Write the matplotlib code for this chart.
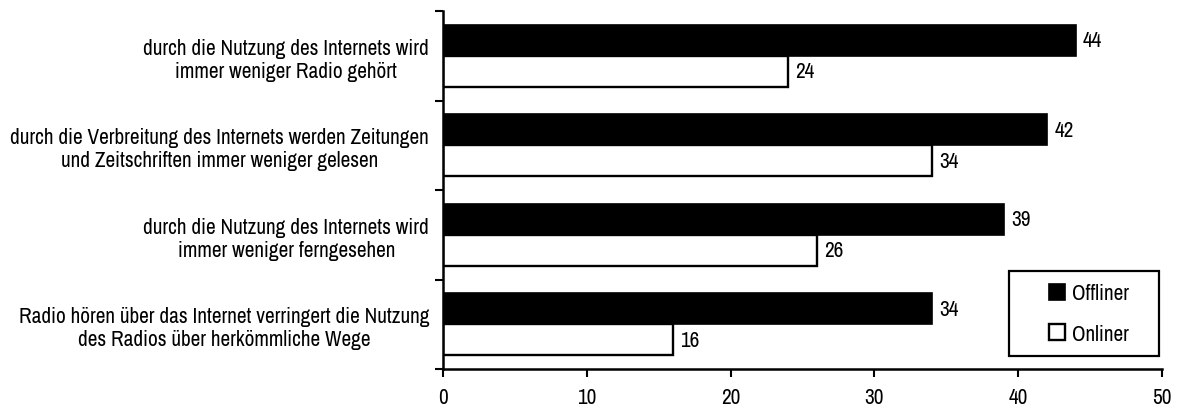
import matplotlib
matplotlib.use("Agg")
import matplotlib.pyplot as plt
from matplotlib import font_manager
from matplotlib.patches import Rectangle
import numpy as np

names = {f.name for f in font_manager.fontManager.ttflist}
prefs = ['Liberation Sans Narrow', 'Nimbus Sans Narrow', 'Archivo Narrow', 'Roboto Condensed',
         'PT Sans Narrow', 'Pragati Narrow', 'Liberation Sans']
chosen = next(p for p in prefs if p in names)
plt.rcParams['font.family'] = [chosen, 'DejaVu Sans']

categories = [
    "durch die Nutzung des Internets wird\nimmer weniger Radio gehört",
    "durch die Verbreitung des Internets werden Zeitungen\nund Zeitschriften immer weniger gelesen",
    "durch die Nutzung des Internets wird\nimmer weniger ferngesehen",
    "Radio hören über das Internet verringert die Nutzung\ndes Radios über herkömmliche Wege",
]
offliner = [44, 42, 39, 34]
onliner = [24, 34, 26, 16]
xticks = [0, 10, 20, 30, 40, 50]

FS = 15.3
W, H = 1182, 414

fig = plt.figure(figsize=(W/100, H/100), dpi=100)
ax = fig.add_axes([443/W, 1-370/H, (1162-443)/W, (370-12)/H])

n = len(categories)
y = np.arange(n)
h = 0.345
b1 = ax.barh(y - h/2, offliner, height=h, color='black', edgecolor='black', linewidth=1.2, label='Offliner')
b2 = ax.barh(y + h/2, onliner, height=h, color='white', edgecolor='black', linewidth=1.7, label='Onliner')
for rect, v in zip(b1, offliner):
    ax.text(v + 0.5, rect.get_y() + rect.get_height()/2, str(v), va='center', ha='left', fontsize=FS)
for rect, v in zip(b2, onliner):
    ax.text(v + 0.5, rect.get_y() + rect.get_height()/2, str(v), va='center', ha='left', fontsize=FS)

ax.set_ylim(n - 0.5, -0.5)
ax.set_xlim(0, 50)
ax.set_yticks(y)
ax.set_yticklabels(categories, fontsize=FS)
for t in ax.get_yticklabels():
    t.set_multialignment('center')
    t.set_linespacing(1.2)
ax.tick_params(axis='y', which='major', length=0, pad=10)
ax.set_yticks(np.arange(-0.5, n, 1.0), minor=True)
ax.tick_params(axis='y', which='minor', length=6, width=1.5, direction='out')
ax.set_xticks(xticks)
ax.set_xticklabels([str(v) for v in xticks], fontsize=FS)
ax.tick_params(axis='x', length=6, width=1.5, direction='out', pad=7)

for s in ['top', 'right']:
    ax.spines[s].set_visible(False)
for s in ['left', 'bottom']:
    ax.spines[s].set_linewidth(1.8)

# legend frame box
lx0, lx1, ly0, ly1 = 1009/W, 1159/W, 1-357/H, 1-272/H
fig.patches.append(Rectangle((lx0, ly0), lx1-lx0, ly1-ly0, transform=fig.transFigure,
                             facecolor='white', edgecolor='black', linewidth=1.6, zorder=5))
leg = fig.legend(handles=[b1, b2], labels=['Offliner', 'Onliner'], loc='center',
                 bbox_to_anchor=((lx0+lx1)/2 + 5/W, (ly0+ly1)/2), frameon=False, fontsize=FS,
                 handlelength=0.75, handleheight=0.75, handletextpad=0.3, labelspacing=0.95,
                 borderpad=0)
leg.set_zorder(6)

fig.savefig('out.png', dpi=100)
